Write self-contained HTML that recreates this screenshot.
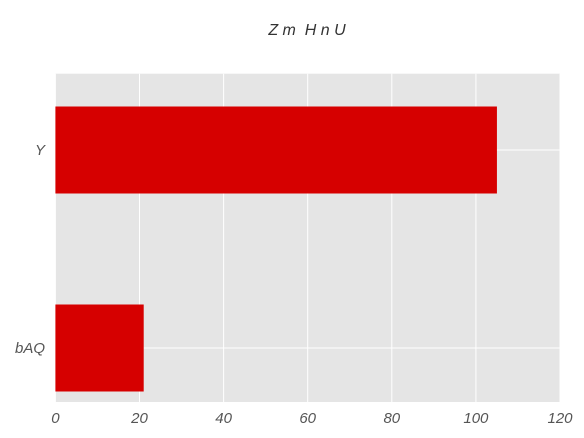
<!DOCTYPE html>
<html><head><meta charset="utf-8"><style>
html,body{margin:0;padding:0;background:#fff;}
svg{display:block;font-family:"Liberation Sans",sans-serif;}
</style></head><body>
<svg id="c" width="584" height="438" xmlns="http://www.w3.org/2000/svg">
<text x="307" y="35" text-anchor="middle" font-size="16" font-style="italic" fill="#333" style="white-space:pre">Z m  H n U</text>
<rect x="55.4" y="73.7" width="504.6" height="328.3" fill="#e5e5e5"/>
<g id="grid"></g><g id="bars"></g><g id="xt"></g><g id="yt"></g>
</svg>
<script>
const categories = ["bAQ", "Y"];
const values = [21, 105];
const xTicks = [0, 20, 40, 60, 80, 100, 120];
const L=55.4,R=560,T=73.7,B=402;
const x=v=>L+(v-0)/(120-0)*(R-L);
const y=i=>348-i*198;
const bh=87;
const NS="http://www.w3.org/2000/svg";
function mk(t,a,p){const e=document.createElementNS(NS,t);for(const k in a)e.setAttribute(k,a[k]);p.appendChild(e);return e;}
const g=document.getElementById('grid');
xTicks.forEach(t=>{const l=mk('line',{x1:x(t),x2:x(t),y1:T,y2:B,stroke:'#fff','stroke-width':1},g);


const tx=mk('text',{x:x(t),y:423,'text-anchor':'middle','font-size':15,'font-style':'italic',fill:'#555'},document.getElementById('xt'));
tx.textContent=t;

});
categories.forEach((c,i)=>{const l=mk('line',{x1:L,x2:R,y1:y(i),y2:y(i),stroke:'#fff','stroke-width':1},g);


const r=mk('rect',{x:L,y:y(i)-bh/2,width:x(values[i])-L,height:bh,fill:'#d60000'},document.getElementById('bars'));


const tx=mk('text',{x:45,y:y(i)+5,'text-anchor':'end','font-size':15,'font-style':'italic',fill:'#555'},document.getElementById('yt'));
tx.textContent=c;

});
</script>
</body></html>
